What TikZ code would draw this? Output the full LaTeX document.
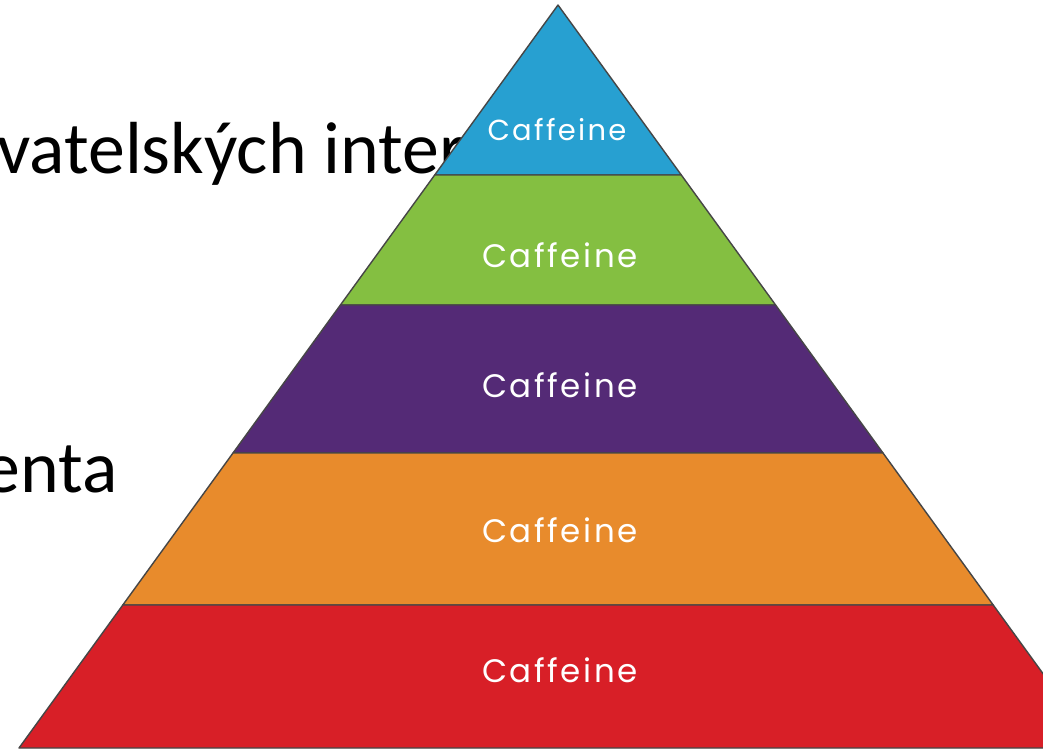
\documentclass[tikz,border=0pt]{standalone}
\usepackage{fontspec}
\setmainfont{Carlito}
\newfontfamily\labelfont[LetterSpace=8]{Poppins}
\definecolor{layerblue}{HTML}{27A0D1}
\definecolor{layergreen}{HTML}{84BF41}
\definecolor{layerpurple}{HTML}{542A76}
\definecolor{layerorange}{HTML}{E88B2C}
\definecolor{layerred}{HTML}{D81F27}
\definecolor{edgegray}{HTML}{464646}
\begin{document}
\begin{tikzpicture}[x=0.02cm,y=-0.02cm,%
% common options for the slide text behind:
slidetext/.style = {anchor=base west, inner sep=0, font=\fontsize{42}{50}\selectfont},
% common options for the layers:
layer/.style = {draw=edgegray, line width=0.8pt, line join=round},
% common options for the labels:
tag/.style = {text=white, align=center, inner sep=0, font=\labelfont\fontsize{18.5}{22}\selectfont}]
\useasboundingbox (0,0) rectangle (1043,752);
\clip (0,0) rectangle (1043,752);
\fill[white] (0,0) rectangle (1043,752);
\node[slidetext] (T1) at (-3,173) {vatelských intern};
\node[slidetext] (T2) at (-17,492) {enta};
% layers, top to bottom
\draw[layer, fill=layerblue] (558,5) -- (681.3,175) -- (434.7,175) -- cycle;
\draw[layer, fill=layergreen] (434.7,175) -- (681.3,175) -- (775.6,305) -- (340.4,305) -- cycle;
\draw[layer, fill=layerpurple] (340.4,305) -- (775.6,305) -- (883.0,453) -- (233.0,453) -- cycle;
\draw[layer, fill=layerorange] (233.0,453) -- (883.0,453) -- (993.2,605) -- (122.8,605) -- cycle;
\draw[layer, fill=layerred] (122.8,605) -- (993.2,605) -- (1097,748) -- (19,748) -- cycle;
\node[tag, font=\labelfont\fontsize{16.5}{20}\selectfont] (L1) at (557,130) {Caffeine};
\node[tag] (L2) at (560,255) {Caffeine};
\node[tag] (L3) at (560,385) {Caffeine};
\node[tag] (L4) at (560,530) {Caffeine};
\node[tag] (L5) at (560,670) {Caffeine};
\end{tikzpicture}
\end{document}
